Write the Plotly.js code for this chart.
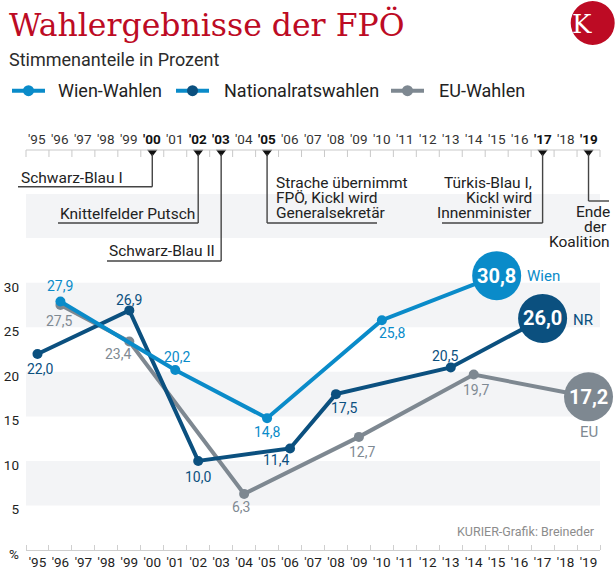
<!DOCTYPE html>
<html><head><meta charset="utf-8">
<script src="https://cdn.plot.ly/plotly-3.0.1.min.js"></script>
<style>html,body{margin:0;padding:0;background:#fff}#chart{width:616px;height:584px}</style>
</head><body><div id="chart"></div>
<script>
// ---------- data ----------
const years = [1995,1996,1997,1998,1999,2000,2001,2002,2003,2004,2005,2006,2007,2008,2009,2010,2011,2012,2013,2014,2015,2016,2017,2018,2019];
const yearLabels = ["'95","'96","'97","'98","'99","'00","'01","'02","'03","'04","'05","'06","'07","'08","'09","'10","'11","'12","'13","'14","'15","'16","'17","'18","'19"];
const wienYears = [1996, 2001, 2005, 2010, 2015];
const wienValues = [27.9, 20.2, 14.8, 25.8, 30.8];
const nrYears = [1995, 1999, 2002, 2006, 2008, 2013, 2017];
const nrValues = [22.0, 26.9, 10.0, 11.4, 17.5, 20.5, 26.0];
const euYears = [1996, 1999, 2004, 2009, 2014, 2019];
const euValues = [27.5, 23.4, 6.3, 12.7, 19.7, 17.2];
const yTickVals = [0, 5, 10, 15, 20, 25, 30];
const yTickText = ['%', '5', '10', '15', '20', '25', '30'];
const eventYears = [2000, 2002, 2003, 2005, 2017, 2019];
const seriesNames = ['Wien-Wahlen', 'Nationalratswahlen', 'EU-Wahlen'];
const endNames = ['Wien', 'NR', 'EU'];
const titleText = 'Wahlergebnisse der FPÖ';
const subtitleText = 'Stimmenanteile in Prozent';
const sourceText = 'KURIER-Grafik: Breineder';

// ---------- styles / positions ----------
const C_WIEN = '#0a8bc9', C_NR = '#0b507f', C_EU = '#7e8891';
const C_RED = '#bd0b24';
const FONT = 'Roboto, sans-serif';
const PLOT_L = 26, PLOT_W = 574, PLOT_H = 550;
const PX_PER_UNIT = 8.907;
const X0 = 1994.5, X1 = 2019.5;
const pxX = p => (p - PLOT_L) / PLOT_W;          // pixel -> paper x
const yrX = y => (y - X0) / (X1 - X0);           // year -> paper x

const wienOff = [[0,15],[2,13],[0,-13.5],[10,-13],null];
const nrOff = [[3,-15],[0,10.5],[0,-16],[-14,-12],[8,-14],[-6,11],null];
const euOff = [[-1,-16],[-11,-12],[-3,-13.5],[3,-15],[2,-15],null];
const endOff = [[28,0,'left'],[28,-1.5,'left'],[0,-35,'center']];

const fmt = v => v.toFixed(1).replace('.', ',');

const series = [
  {x: euYears, y: euValues, c: C_EU, off: euOff, lab: '#7f8a93', end: 2},
  {x: nrYears, y: nrValues, c: C_NR, off: nrOff, lab: C_NR, end: 1},
  {x: wienYears, y: wienValues, c: C_WIEN, off: wienOff, lab: C_WIEN, end: 0}
];

const traces = series.map(s => ({
  type: 'scatter', mode: 'lines+markers', x: s.x, y: s.y,
  xaxis: 'x', yaxis: 'y', cliponaxis: false, hoverinfo: 'skip',
  line: {color: s.c, width: 4},
  marker: {color: s.c, opacity: 1, line: {width: 0}, size: s.y.map((v, i) => i === s.y.length - 1 ? 49 : 10)}
}));
traces.push({
  type: 'scatter', mode: 'markers', x: eventYears, y: eventYears.map(() => 152),
  xaxis: 'x', yaxis: 'y2', cliponaxis: false, hoverinfo: 'skip',
  marker: {symbol: 'triangle-down', size: 9, color: '#111', opacity: 1}
});

const annotations = [];
const shapes = [];

// data labels
series.forEach(s => {
  s.y.forEach((v, i) => {
    const last = i === s.y.length - 1;
    if (!last) {
      annotations.push({xref: 'x', yref: 'y', x: s.x[i], y: v, text: fmt(v), showarrow: false,
        xshift: s.off[i][0], yshift: s.off[i][1], font: {family: FONT, size: 14, color: s.lab}});
    } else {
      annotations.push({xref: 'x', yref: 'y', x: s.x[i], y: v, text: '<b>' + fmt(v) + '</b>', showarrow: false,
        font: {family: FONT, size: 20, color: '#fff'}});
      const e = endOff[s.end];
      annotations.push({xref: 'x', yref: 'y', x: s.x[i], y: v, text: endNames[s.end], showarrow: false,
        xanchor: e[2], xshift: e[0], yshift: e[1], font: {family: FONT, size: 15, color: s.lab}});
    }
  });
});

// chart bands
[[25,30],[15,20],[5,10]].forEach(b => shapes.push({type: 'rect', xref: 'x', yref: 'y', x0: X0, x1: X1, y0: b[0], y1: b[1],
  fillcolor: '#f3f4f6', line: {width: 0}, layer: 'below'}));

// title, subtitle, logo
annotations.push({xref: 'paper', yref: 'y2', x: pxX(7), y: 24, xanchor: 'left', yanchor: 'middle', showarrow: false,
  text: titleText, font: {family: 'DejaVu Serif', size: 31.5, color: C_RED}});
annotations.push({xref: 'paper', yref: 'y2', x: pxX(7), y: 59, xanchor: 'left', yanchor: 'middle', showarrow: false,
  text: subtitleText, font: {family: FONT, size: 18, color: '#2b2b2b'}});
shapes.push({type: 'circle', xref: 'paper', yref: 'y2', x0: pxX(570.7), x1: pxX(614.7), y0: 1, y1: 45,
  fillcolor: C_RED, line: {width: 0}});
annotations.push({xref: 'paper', yref: 'y2', x: pxX(593.5), y: 23.5, showarrow: false, text: 'K',
  font: {family: 'DejaVu Serif', size: 26, color: '#fff'}});

// legend
const legendItems = [
  {line: C_WIEN, mark: C_WIEN, x0: 12, x1: 45, tx: 56},
  {line: C_WIEN, mark: C_NR, x0: 176, x1: 209, tx: 222},
  {line: C_EU, mark: C_EU, x0: 391, x1: 424, tx: 437}
];
legendItems.forEach((l, i) => {
  shapes.push({type: 'line', xref: 'paper', yref: 'y2', x0: pxX(l.x0), x1: pxX(l.x1), y0: 90.7, y1: 90.7,
    line: {color: l.line, width: 4}});
  const cx = (l.x0 + l.x1) / 2;
  shapes.push({type: 'circle', xref: 'paper', yref: 'y2', x0: pxX(cx - 5.5), x1: pxX(cx + 5.5), y0: 85.2, y1: 96.2,
    fillcolor: l.mark, line: {width: 0}});
  annotations.push({xref: 'paper', yref: 'y2', x: pxX(l.tx), y: 90.7, xanchor: 'left', yanchor: 'middle', showarrow: false,
    text: seriesNames[i], font: {family: FONT, size: 18, color: '#222'}});
});

// timeline axis
shapes.push({type: 'line', xref: 'paper', yref: 'y2', x0: 0, x1: 1, y0: 150, y1: 150, line: {color: '#c9c9c9', width: 1}});
for (let k = 0; k <= years.length; k++) {
  const xb = yrX(X0 + k);
  shapes.push({type: 'line', xref: 'paper', yref: 'y2', x0: xb, x1: xb, y0: 150, y1: 157, line: {color: '#c9c9c9', width: 1}});
}
years.forEach((y, i) => {
  const isEv = eventYears.indexOf(y) >= 0;
  annotations.push({xref: 'x', yref: 'y2', x: y, y: 139, showarrow: false,
    text: isEv ? '<b>' + yearLabels[i] + '</b>' : yearLabels[i], font: {family: FONT, size: 13.5, color: isEv ? '#111' : '#333'}});
});
shapes.push({type: 'rect', xref: 'paper', yref: 'y2', x0: 0, x1: 1, y0: 194, y1: 238, fillcolor: '#f3f4f6', line: {width: 0}, layer: 'below'});

// event callouts
const LC = '#444';
const seg = (x0, y0, x1, y1) => shapes.push({type: 'line', xref: 'paper', yref: 'y2', x0: x0, x1: x1, y0: y0, y1: y1, line: {color: LC, width: 1.4}});
const txt = (px, y, t, anchor) => annotations.push({xref: 'paper', yref: 'y2', x: pxX(px), y: y, xanchor: anchor, yanchor: 'middle',
  showarrow: false, text: t, font: {family: FONT, size: 15.5, color: '#222'}});
// Schwarz-Blau I (2000)
seg(yrX(2000), 154, yrX(2000), 186.7); seg(pxX(18), 186.7, yrX(2000), 186.7); txt(19, 177.5, 'Schwarz-Blau I', 'left');
// Knittelfelder Putsch (2002)
seg(yrX(2002), 154, yrX(2002), 223); seg(pxX(58), 223, yrX(2002), 223); txt(58, 213.5, 'Knittelfelder Putsch', 'left');
// Schwarz-Blau II (2003)
seg(yrX(2003), 154, yrX(2003), 261); seg(pxX(107), 261, yrX(2003), 261); txt(107, 251, 'Schwarz-Blau II', 'left');
// Strache (2005)
seg(yrX(2005), 154, yrX(2005), 223); seg(yrX(2005), 223, pxX(377), 223);
txt(274, 182.5, 'Strache übernimmt', 'left'); txt(274, 197.5, 'FPÖ, Kickl wird', 'left'); txt(274, 212.5, 'Generalsekretär', 'left');
// Türkis-Blau I (2017)
seg(yrX(2017), 154, yrX(2017), 223); seg(pxX(442), 223, yrX(2017), 223);
txt(534, 182.5, 'Türkis-Blau I,', 'right'); txt(534, 197.5, 'Kickl wird', 'right'); txt(534, 212.5, 'Innenminister', 'right');
// Ende der Koalition (2019)
seg(yrX(2019), 154, yrX(2019), 201); seg(yrX(2019), 201, pxX(609), 201);
txt(612, 211.5, 'Ende', 'right'); txt(609, 226.5, 'der', 'right'); txt(612, 241.5, 'Koalition', 'right');

// source
annotations.push({xref: 'paper', yref: 'y2', x: pxX(597), y: 531.5, xanchor: 'right', yanchor: 'middle', showarrow: false,
  text: sourceText, font: {family: FONT, size: 12.5, color: '#8c8c8c'}});

const layout = {
  width: 616, height: 584, margin: {l: PLOT_L, r: 616 - PLOT_L - PLOT_W, t: 0, b: 584 - PLOT_H},
  paper_bgcolor: '#fff', plot_bgcolor: 'rgba(0,0,0,0)', showlegend: false,
  font: {family: FONT, color: '#222'},
  xaxis: {range: [X0, X1], tickmode: 'array', tickvals: years, ticktext: yearLabels, ticks: '',
    showline: true, linecolor: '#cfcfcf', linewidth: 1, showgrid: false, zeroline: false, fixedrange: true,
    tickfont: {family: FONT, size: 13.5, color: '#222'},
    minor: {tickmode: 'linear', tick0: X0, dtick: 1, ticks: 'inside', ticklen: 5, tickcolor: '#cfcfcf', tickwidth: 1, showgrid: false}},
  yaxis: {domain: [0, 280 / PLOT_H], range: [0, 280 / PX_PER_UNIT], tickmode: 'array', tickvals: yTickVals, ticktext: yTickText,
    ticks: '', showline: false, showgrid: false, zeroline: false, fixedrange: true, ticklabelshift: 4, ticklabelstandoff: 6,
    tickfont: {family: FONT, size: 13.5, color: '#222'}},
  yaxis2: {domain: [0, 1], range: [PLOT_H, 0], visible: false, anchor: 'x', fixedrange: true},
  shapes: shapes, annotations: annotations
};

Plotly.newPlot('chart', traces, layout, {displayModeBar: false, staticPlot: true});
</script></body></html>
